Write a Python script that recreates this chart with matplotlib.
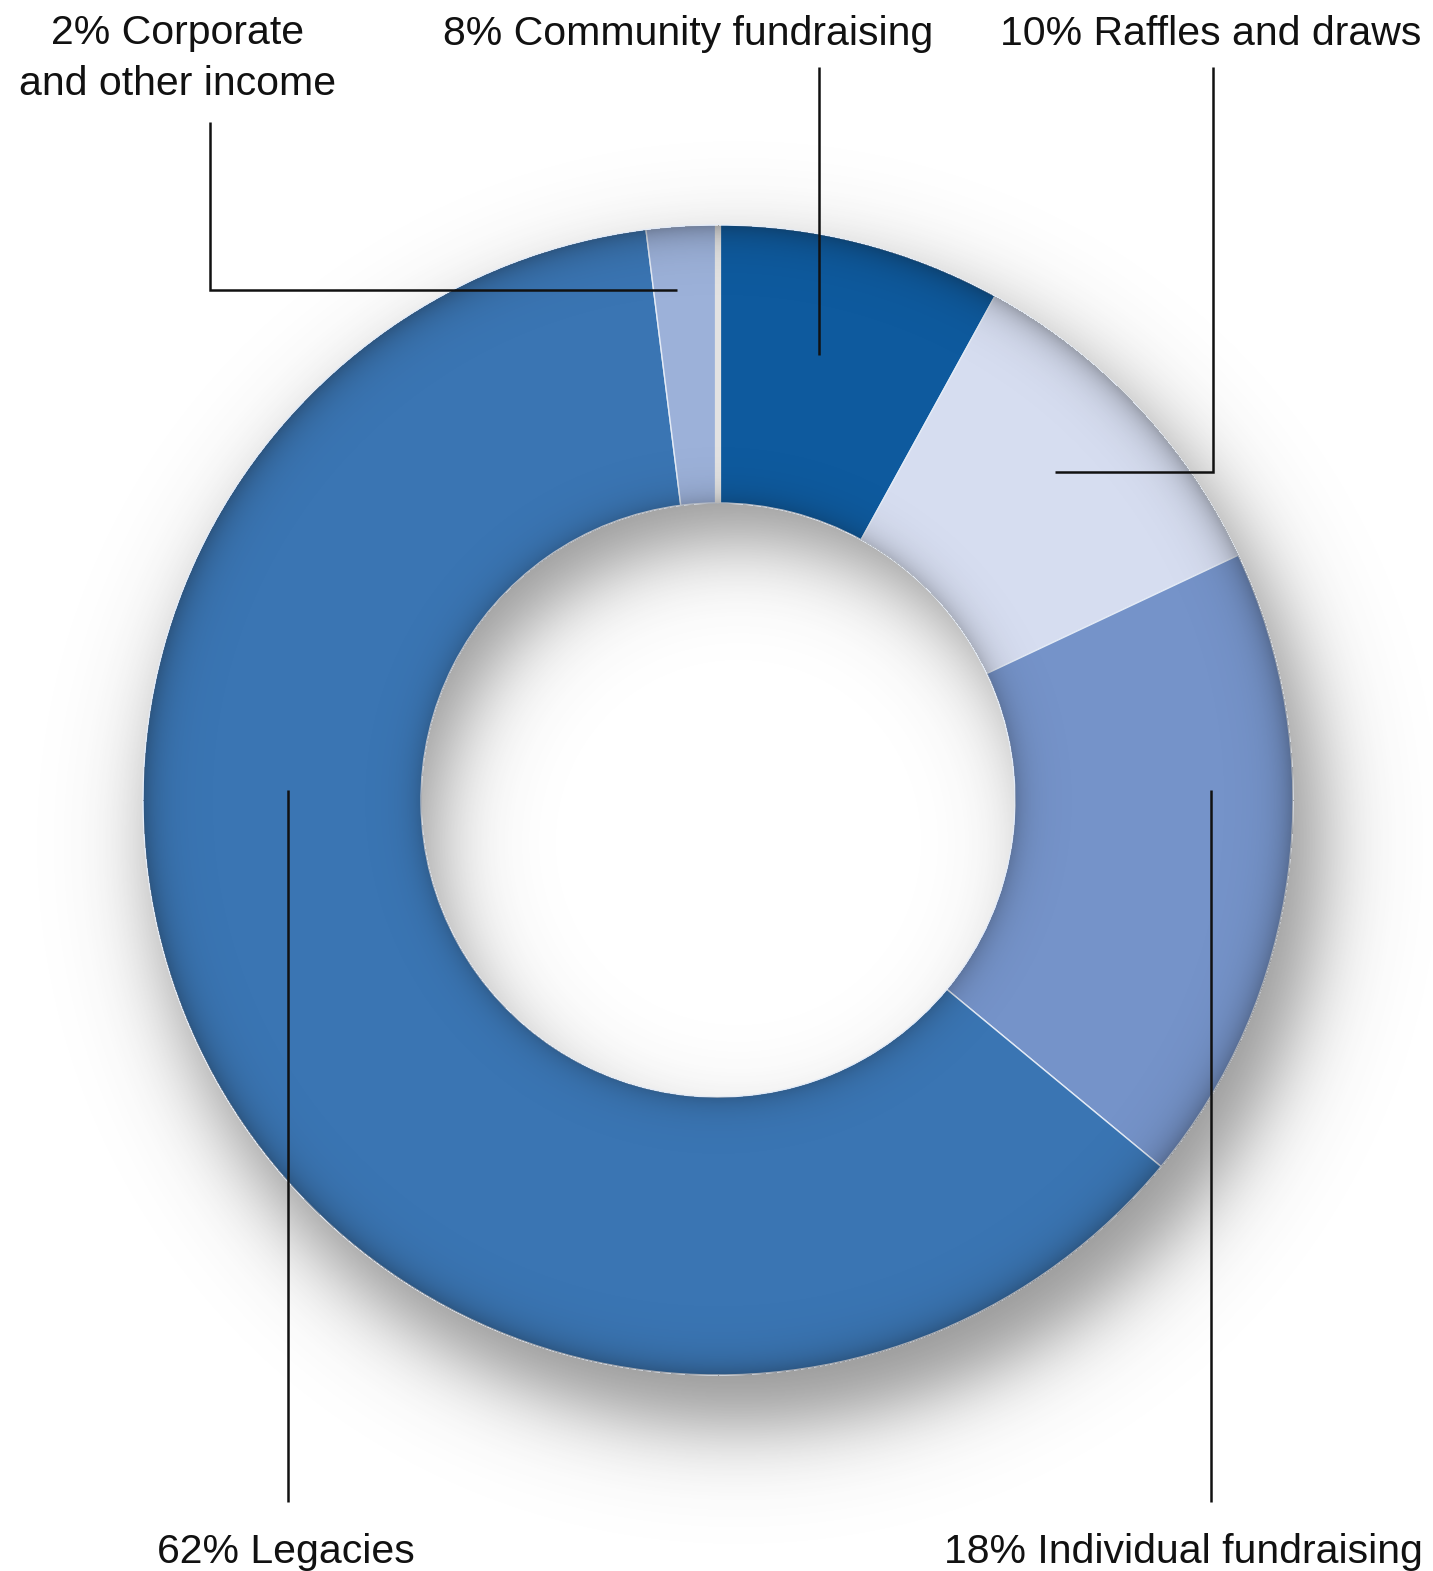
import numpy as np
import matplotlib
matplotlib.use("Agg")
import matplotlib.pyplot as plt

# ---- data ----
categories = ["Community fundraising", "Raffles and draws", "Individual fundraising",
              "Legacies", "Corporate and other income"]
values = [8, 10, 18, 62, 2]
colors = ["#0e5a9e", "#d6ddf0", "#7593c9", "#3a75b3", "#9cb1d9"]
label_lines = [["8% Community fundraising"], ["10% Raffles and draws"],
               ["18% Individual fundraising"], ["62% Legacies"],
               ["2% Corporate", "and other income"]]

W, H = 1433, 1571
plt.rcParams['font.family'] = ['Liberation Sans', 'DejaVu Sans']

fig = plt.figure(figsize=(W / 100, H / 100), dpi=100)
ax = fig.add_axes([0, 0, 1, 1])

cx, cy_px = 718, 800
cy = H - cy_px
R_out, R_in = 575, 297

# ---- drop shadow (blurred, shifted annulus) ----
yy, xx = np.mgrid[0:H, 0:W]
sx, sy = 20, 42
ds = np.hypot(xx - (cx + sx), yy - (cy_px + sy))
sig = 24.0
sh = 1 / (1 + np.exp(-(R_out + 8 - ds) / sig)) - 1 / (1 + np.exp(-(R_in + 4 - ds) / sig))
sh = np.clip(sh, 0, 1) * 0.55
shadow = np.zeros((H, W, 4))
shadow[..., :3] = 0.25
shadow[..., 3] = sh
ax.imshow(shadow, extent=(0, W, 0, H), origin='upper', zorder=0, interpolation='bilinear')

# ---- donut ----
wedges, _ = ax.pie(values, colors=colors, startangle=90, counterclock=False,
                   radius=R_out, center=(cx, cy),
                   wedgeprops=dict(width=R_out - R_in, edgecolor='#e4ebf6', linewidth=1.0))
for w in wedges:
    w.set_zorder(2)

# white gap at the start boundary (12 o'clock)
ax.plot([cx, cx], [cy + R_in, cy + R_out], color='#e2e2e2', lw=4.5, zorder=3,
        solid_capstyle='butt')

# ---- rim shading on the ring ----
r = np.hypot(xx - cx, yy - cy_px)
ring = (r <= R_out) & (r >= R_in)
a = (0.30 * np.exp(-(R_out - r) / 16.0) + 0.22 * np.exp(-(r - R_in) / 14.0)) * ring
rim = np.zeros((H, W, 4))
rim[..., :3] = 0.05
rim[..., 3] = np.clip(a, 0, 1)
ax.imshow(rim, extent=(0, W, 0, H), origin='upper', zorder=4, interpolation='bilinear')

ax.set_xlim(0, W)
ax.set_ylim(0, H)
ax.set_aspect('auto')
ax.axis('off')

# ---- labels and leader lines ----
fs = 29.5
tc = '#111111'
lw = 1.8

def Y(p):
    return H - p

def label(x, base_px, lines, step=51):
    for i, t in enumerate(lines):
        ax.text(x, Y(base_px + i * step), t, ha='center', va='baseline', fontsize=fs,
                color=tc, zorder=6)

label(178, 44, label_lines[4])
label(688, 45, label_lines[0])
label(1211, 45, label_lines[1])
label(286, 1563, label_lines[3])
label(1183, 1563, label_lines[2])

lk = dict(color='#111111', lw=lw, zorder=7, solid_capstyle='butt', solid_joinstyle='miter')
ax.plot([210, 210, 677], [Y(122), Y(290), Y(290)], **lk)
ax.plot([819, 819], [Y(67), Y(355)], **lk)
ax.plot([1213, 1213, 1055], [Y(67), Y(472), Y(472)], **lk)
ax.plot([288, 288], [Y(790), Y(1502)], **lk)
ax.plot([1211, 1211], [Y(790), Y(1502)], **lk)

fig.savefig("out.png", dpi=100)
